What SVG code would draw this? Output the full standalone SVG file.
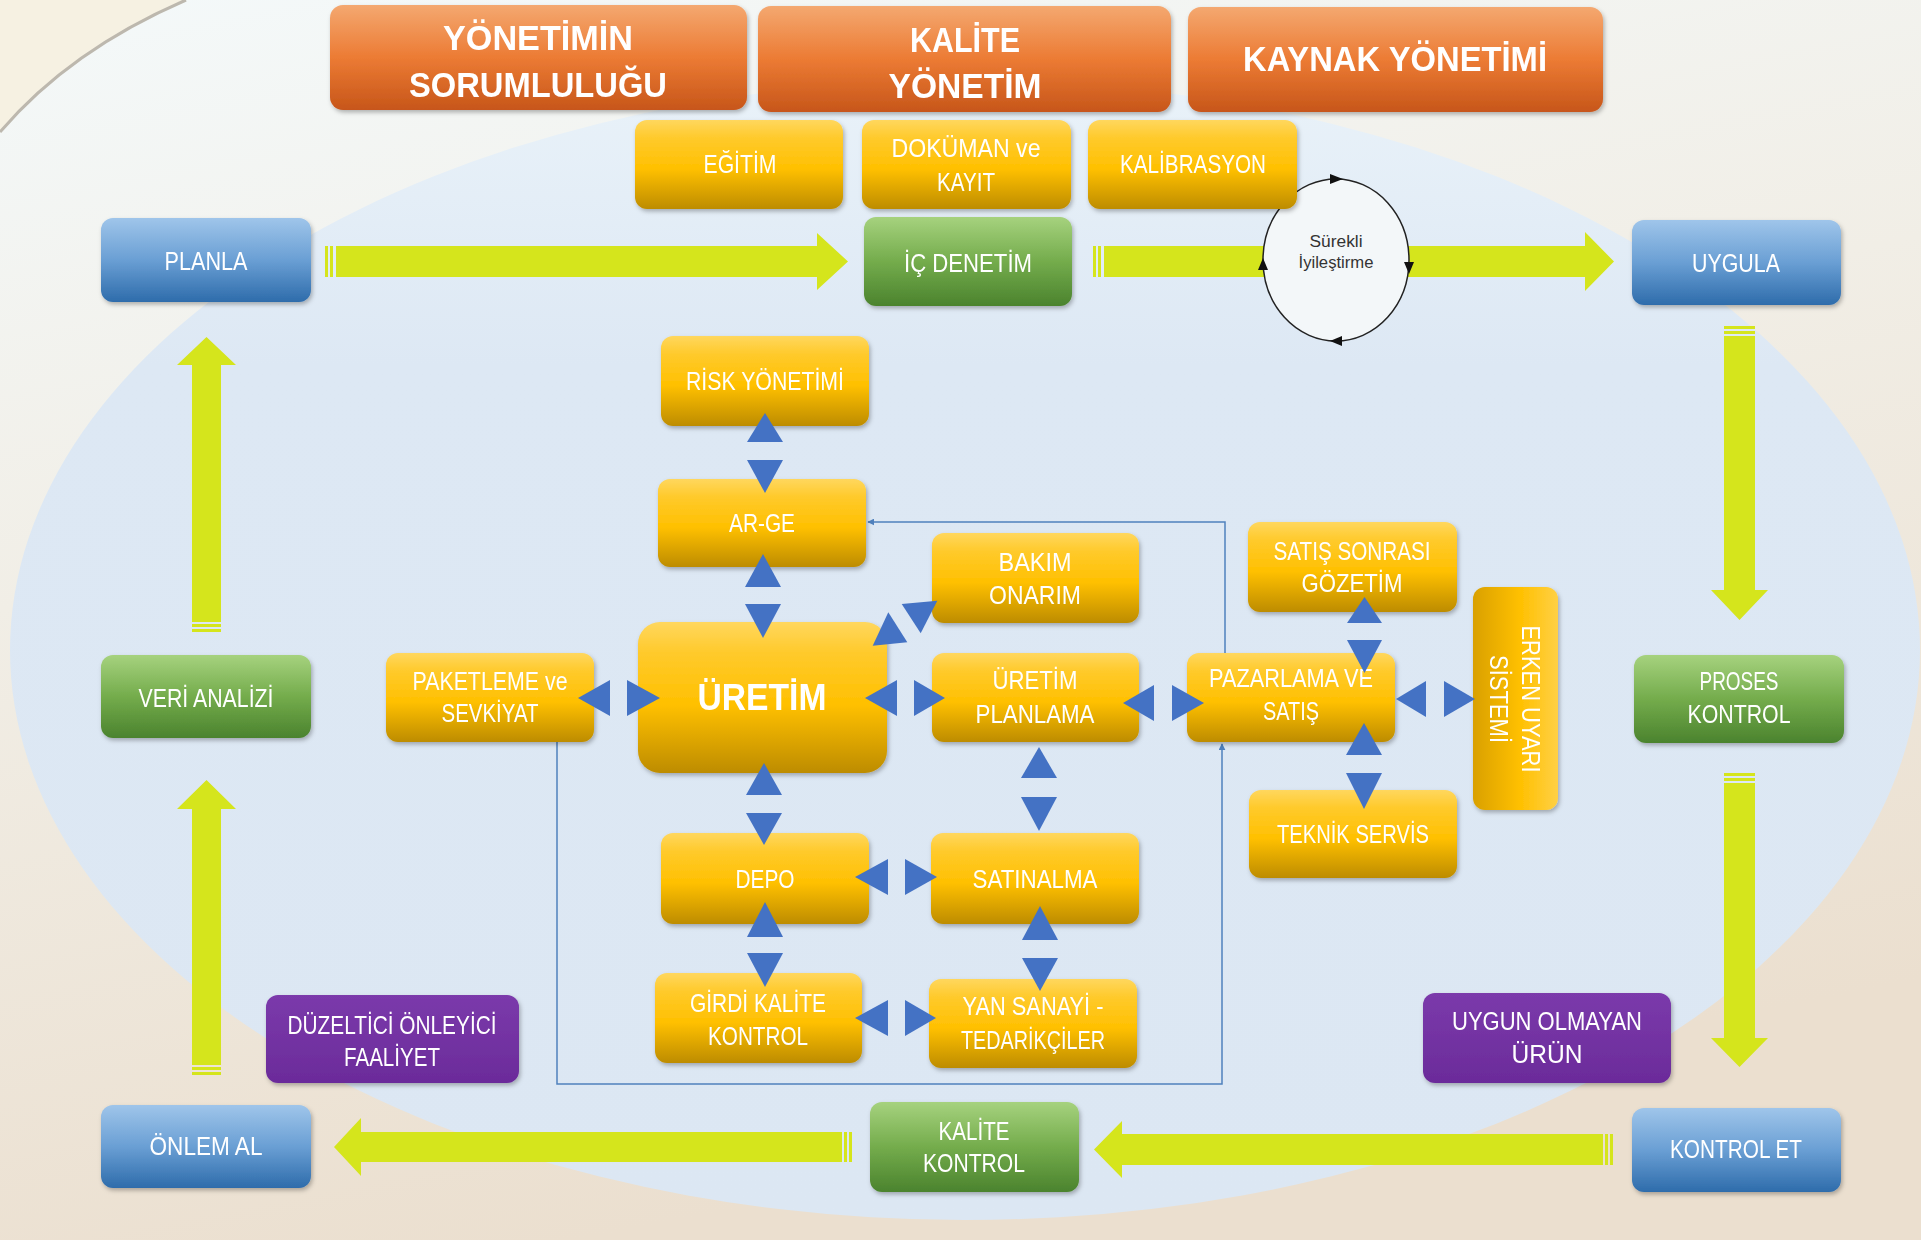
<svg xmlns="http://www.w3.org/2000/svg" width="1921" height="1240" viewBox="0 0 1921 1240">
<defs>
<linearGradient id="bg" x1="0" y1="0" x2="0.3" y2="1">
<stop offset="0" stop-color="#f4f9fa"/><stop offset="0.45" stop-color="#f1eee6"/><stop offset="1" stop-color="#ebdfcf"/>
</linearGradient>
<linearGradient id="ell" x1="0" y1="0" x2="0" y2="1">
<stop offset="0" stop-color="#e9f2f9"/><stop offset="0.25" stop-color="#dde8f4"/><stop offset="1" stop-color="#dce7f3"/>
</linearGradient>
<linearGradient id="gO" x1="0" y1="0" x2="0" y2="1">
<stop offset="0" stop-color="#f4a870"/><stop offset="0.5" stop-color="#ec7b34"/><stop offset="1" stop-color="#c7561a"/>
</linearGradient>
<linearGradient id="gY" x1="0" y1="0" x2="0" y2="1">
<stop offset="0" stop-color="#ffd75e"/><stop offset="0.2" stop-color="#ffca2c"/><stop offset="0.55" stop-color="#ffc000"/><stop offset="1" stop-color="#bd8c00"/>
</linearGradient>
<linearGradient id="gB" x1="0" y1="0" x2="0" y2="1">
<stop offset="0" stop-color="#9fc5ea"/><stop offset="0.5" stop-color="#6a9fd4"/><stop offset="1" stop-color="#2e6cab"/>
</linearGradient>
<linearGradient id="gG" x1="0" y1="0" x2="0" y2="1">
<stop offset="0" stop-color="#a6d27e"/><stop offset="0.5" stop-color="#74ac4c"/><stop offset="1" stop-color="#4b832e"/>
</linearGradient>
<linearGradient id="gP" x1="0" y1="0" x2="0" y2="1">
<stop offset="0" stop-color="#7b3aab"/><stop offset="1" stop-color="#6b2b9a"/>
</linearGradient>
<linearGradient id="gE" x1="0" y1="0" x2="1" y2="0">
<stop offset="0" stop-color="#d9a000"/><stop offset="0.55" stop-color="#ffc000"/><stop offset="1" stop-color="#ffd045"/>
</linearGradient>
<filter id="sh" x="-10%" y="-10%" width="125%" height="130%">
<feDropShadow dx="1.5" dy="2.5" stdDeviation="2" flood-color="#000" flood-opacity="0.28"/>
</filter>
<marker id="mb" viewBox="0 0 10 10" refX="9" refY="5" markerWidth="7" markerHeight="7" orient="auto" markerUnits="userSpaceOnUse">
<path d="M0,0 L10,5 L0,10 z" fill="#4f81bd"/>
</marker>
</defs>
<style>
.t{font-family:"Liberation Sans Narrow","Liberation Sans",Arial,sans-serif;font-size:25px;fill:#ffffff;text-anchor:middle}
.h{font-weight:bold;font-size:35px}
.big{font-weight:bold;font-size:36px}
.c{font-family:"Liberation Sans",Arial,sans-serif;font-size:16px;fill:#333333;text-anchor:middle}
.box{filter:url(#sh)}
.o{fill:url(#gO)}
.y{fill:url(#gY)}
.b{fill:url(#gB)}
.g{fill:url(#gG)}
.p{fill:url(#gP)}
.ga{fill:#d5e51c}
.tri{fill:#4472c4}
.ln{fill:none;stroke:#4f81bd;stroke-width:1.5}
</style>

<!-- background -->
<rect x="0" y="0" width="1921" height="1240" fill="url(#bg)"/>
<path d="M0,0 H186 Q70,50 0,132 Z" fill="#f6f1e2"/>
<path d="M0,132 Q70,50 186,0" fill="none" stroke="#bdb8ae" stroke-width="3"/>
<ellipse cx="965" cy="650" rx="955" ry="570" fill="url(#ell)"/>

<!-- green flow arrows -->
<g id="flow-arrows">
<rect class="ga" x="325" y="246" width="3" height="31"/>
<rect class="ga" x="330" y="246" width="3" height="31"/>
<polygon class="ga" points="336,246 817,246 817,233 848,261.5 817,290 817,277 336,277"/>
<rect class="ga" x="1093" y="246" width="3" height="31"/>
<rect class="ga" x="1098" y="246" width="3" height="31"/>
<polygon class="ga" points="1104,246 1585,246 1585,232 1614,261.5 1585,291 1585,277 1104,277"/>
<rect class="ga" x="1724" y="326" width="31" height="3"/>
<rect class="ga" x="1724" y="331" width="31" height="3"/>
<polygon class="ga" points="1724,336 1755,336 1755,590 1768,590 1739.5,620 1711,590 1724,590"/>
<rect class="ga" x="1724" y="773" width="31" height="3"/>
<rect class="ga" x="1724" y="778" width="31" height="3"/>
<polygon class="ga" points="1724,783 1755,783 1755,1038 1768,1038 1739.5,1067 1711,1038 1724,1038"/>
<rect class="ga" x="1610" y="1134" width="3" height="31"/>
<rect class="ga" x="1605" y="1134" width="3" height="31"/>
<polygon class="ga" points="1603,1134 1122,1134 1122,1121 1094,1149.5 1122,1178 1122,1165 1603,1165"/>
<rect class="ga" x="849" y="1132" width="3" height="30"/>
<rect class="ga" x="844" y="1132" width="3" height="30"/>
<polygon class="ga" points="842,1132 361,1132 361,1118 334,1147 361,1176 361,1162 842,1162"/>
<rect class="ga" x="192" y="1072" width="29" height="3"/>
<rect class="ga" x="192" y="1067" width="29" height="3"/>
<polygon class="ga" points="192,1065 192,809 177,809 206.5,780 236,809 221,809 221,1065"/>
<rect class="ga" x="192" y="629" width="29" height="3"/>
<rect class="ga" x="192" y="624" width="29" height="3"/>
<polygon class="ga" points="192,622 192,365 177,365 206.5,337 236,365 221,365 221,622"/>
</g>

<!-- continuous improvement circle -->
<g id="surekli-iyilestirme">
<ellipse cx="1336" cy="260" rx="73" ry="81" fill="#f3f7f9" stroke="#222222" stroke-width="1.5"/>
<polygon points="1330,174 1343,179 1330,184" fill="#111"/>
<polygon points="1404,262 1414,262 1409,274" fill="#111"/>
<polygon points="1342,336 1330,341 1342,346" fill="#111"/>
<polygon points="1258,270 1268,270 1263,258" fill="#111"/>
<text class="c" x="1336" y="247" textLength="53" lengthAdjust="spacingAndGlyphs">Sürekli</text>
<text class="c" x="1336" y="268" textLength="75" lengthAdjust="spacingAndGlyphs">İyileştirme</text>
</g>

<!-- blue thin connectors -->
<g id="connectors">
<path class="ln" d="M1225,653 V522 H868" marker-end="url(#mb)"/>
<path class="ln" d="M557,742 V1084 H1222 V744" marker-end="url(#mb)"/>
</g>

<!-- header -->
<g id="yonetimin-sorumlulugu" class="box">
<rect class="o" x="330" y="5" width="417" height="105" rx="13"/>
<text class="t h" x="538" y="50" textLength="190" lengthAdjust="spacingAndGlyphs">YÖNETİMİN</text>
<text class="t h" x="538" y="97" textLength="258" lengthAdjust="spacingAndGlyphs">SORUMLULUĞU</text>
</g>
<g id="kalite-yonetim" class="box">
<rect class="o" x="758" y="6" width="413" height="106" rx="13"/>
<text class="t h" x="965" y="52" textLength="110" lengthAdjust="spacingAndGlyphs">KALİTE</text>
<text class="t h" x="965" y="98" textLength="153" lengthAdjust="spacingAndGlyphs">YÖNETİM</text>
</g>
<g id="kaynak-yonetimi" class="box">
<rect class="o" x="1188" y="7" width="415" height="105" rx="13"/>
<text class="t h" x="1395" y="71" textLength="304" lengthAdjust="spacingAndGlyphs">KAYNAK YÖNETİMİ</text>
</g>

<!-- second row -->
<g id="egitim" class="box">
<rect class="y" x="635" y="120" width="208" height="89" rx="12"/>
<text class="t" x="740" y="173" textLength="73" lengthAdjust="spacingAndGlyphs">EĞİTİM</text>
</g>
<g id="dokuman-kayit" class="box">
<rect class="y" x="862" y="120" width="209" height="89" rx="12"/>
<text class="t" x="966" y="157" textLength="149" lengthAdjust="spacingAndGlyphs">DOKÜMAN ve</text>
<text class="t" x="966" y="191" textLength="58" lengthAdjust="spacingAndGlyphs">KAYIT</text>
</g>
<g id="kalibrasyon" class="box">
<rect class="y" x="1088" y="120" width="209" height="89" rx="12"/>
<text class="t" x="1193" y="173" textLength="146" lengthAdjust="spacingAndGlyphs">KALİBRASYON</text>
</g>
<g id="ic-denetim" class="box">
<rect class="g" x="864" y="217" width="208" height="89" rx="12"/>
<text class="t" x="968" y="272" textLength="128" lengthAdjust="spacingAndGlyphs">İÇ DENETİM</text>
</g>

<!-- PDCA corners -->
<g id="planla" class="box">
<rect class="b" x="101" y="218" width="210" height="84" rx="12"/>
<text class="t" x="206" y="270" textLength="83" lengthAdjust="spacingAndGlyphs">PLANLA</text>
</g>
<g id="uygula" class="box">
<rect class="b" x="1632" y="220" width="209" height="85" rx="12"/>
<text class="t" x="1736" y="272" textLength="88" lengthAdjust="spacingAndGlyphs">UYGULA</text>
</g>
<g id="veri-analizi" class="box">
<rect class="g" x="101" y="655" width="210" height="83" rx="12"/>
<text class="t" x="206" y="707" textLength="135" lengthAdjust="spacingAndGlyphs">VERİ ANALİZİ</text>
</g>
<g id="proses-kontrol" class="box">
<rect class="g" x="1634" y="655" width="210" height="88" rx="12"/>
<text class="t" x="1739" y="690" textLength="79" lengthAdjust="spacingAndGlyphs">PROSES</text>
<text class="t" x="1739" y="723" textLength="103" lengthAdjust="spacingAndGlyphs">KONTROL</text>
</g>
<g id="onlem-al" class="box">
<rect class="b" x="101" y="1105" width="210" height="83" rx="12"/>
<text class="t" x="206" y="1155" textLength="113" lengthAdjust="spacingAndGlyphs">ÖNLEM AL</text>
</g>
<g id="kontrol-et" class="box">
<rect class="b" x="1632" y="1108" width="209" height="84" rx="12"/>
<text class="t" x="1736" y="1158" textLength="132" lengthAdjust="spacingAndGlyphs">KONTROL ET</text>
</g>
<g id="kalite-kontrol" class="box">
<rect class="g" x="870" y="1102" width="209" height="90" rx="12"/>
<text class="t" x="974" y="1140" textLength="71" lengthAdjust="spacingAndGlyphs">KALİTE</text>
<text class="t" x="974" y="1172" textLength="102" lengthAdjust="spacingAndGlyphs">KONTROL</text>
</g>
<g id="duzeltici-onleyici" class="box">
<rect class="p" x="266" y="995" width="253" height="88" rx="12"/>
<text class="t" x="392" y="1034" textLength="209" lengthAdjust="spacingAndGlyphs">DÜZELTİCİ ÖNLEYİCİ</text>
<text class="t" x="392" y="1066" textLength="96" lengthAdjust="spacingAndGlyphs">FAALİYET</text>
</g>
<g id="uygun-olmayan-urun" class="box">
<rect class="p" x="1423" y="993" width="248" height="90" rx="12"/>
<text class="t" x="1547" y="1030" textLength="190" lengthAdjust="spacingAndGlyphs">UYGUN OLMAYAN</text>
<text class="t" x="1547" y="1063" textLength="71" lengthAdjust="spacingAndGlyphs">ÜRÜN</text>
</g>

<!-- central process -->
<g id="risk-yonetimi" class="box">
<rect class="y" x="661" y="336" width="208" height="90" rx="12"/>
<text class="t" x="765" y="390" textLength="158" lengthAdjust="spacingAndGlyphs">RİSK YÖNETİMİ</text>
</g>
<g id="ar-ge" class="box">
<rect class="y" x="658" y="479" width="208" height="88" rx="12"/>
<text class="t" x="762" y="532" textLength="66" lengthAdjust="spacingAndGlyphs">AR-GE</text>
</g>
<g id="uretim" class="box">
<rect class="y" x="638" y="622" width="249" height="151" rx="22"/>
<text class="t big" x="762" y="710" textLength="129" lengthAdjust="spacingAndGlyphs">ÜRETİM</text>
</g>
<g id="paketleme-sevkiyat" class="box">
<rect class="y" x="386" y="653" width="208" height="89" rx="12"/>
<text class="t" x="490" y="690" textLength="155" lengthAdjust="spacingAndGlyphs">PAKETLEME ve</text>
<text class="t" x="490" y="722" textLength="97" lengthAdjust="spacingAndGlyphs">SEVKİYAT</text>
</g>
<g id="bakim-onarim" class="box">
<rect class="y" x="932" y="533" width="207" height="90" rx="12"/>
<text class="t" x="1035" y="571" textLength="73" lengthAdjust="spacingAndGlyphs">BAKIM</text>
<text class="t" x="1035" y="604" textLength="92" lengthAdjust="spacingAndGlyphs">ONARIM</text>
</g>
<g id="uretim-planlama" class="box">
<rect class="y" x="932" y="653" width="207" height="89" rx="12"/>
<text class="t" x="1035" y="689" textLength="85" lengthAdjust="spacingAndGlyphs">ÜRETİM</text>
<text class="t" x="1035" y="723" textLength="119" lengthAdjust="spacingAndGlyphs">PLANLAMA</text>
</g>
<g id="pazarlama-satis" class="box">
<rect class="y" x="1187" y="653" width="208" height="89" rx="12"/>
<text class="t" x="1291" y="687" textLength="164" lengthAdjust="spacingAndGlyphs">PAZARLAMA VE</text>
<text class="t" x="1291" y="720" textLength="56" lengthAdjust="spacingAndGlyphs">SATIŞ</text>
</g>
<g id="satis-sonrasi-gozetim" class="box">
<rect class="y" x="1248" y="522" width="209" height="90" rx="12"/>
<text class="t" x="1352" y="560" textLength="157" lengthAdjust="spacingAndGlyphs">SATIŞ SONRASI</text>
<text class="t" x="1352" y="592" textLength="101" lengthAdjust="spacingAndGlyphs">GÖZETİM</text>
</g>
<g id="teknik-servis" class="box">
<rect class="y" x="1249" y="790" width="208" height="88" rx="12"/>
<text class="t" x="1353" y="843" textLength="152" lengthAdjust="spacingAndGlyphs">TEKNİK SERVİS</text>
</g>
<g id="erken-uyari-sistemi" class="box">
<rect x="1473" y="587" width="85" height="223" rx="12" fill="url(#gE)"/>
<text class="t" transform="translate(1522,699) rotate(90)" x="0" y="0" textLength="147" lengthAdjust="spacingAndGlyphs">ERKEN UYARI</text>
<text class="t" transform="translate(1490,699) rotate(90)" x="0" y="0" textLength="88" lengthAdjust="spacingAndGlyphs">SİSTEMİ</text>
</g>
<g id="depo" class="box">
<rect class="y" x="661" y="833" width="208" height="91" rx="12"/>
<text class="t" x="765" y="888" textLength="59" lengthAdjust="spacingAndGlyphs">DEPO</text>
</g>
<g id="satinalma" class="box">
<rect class="y" x="931" y="833" width="208" height="91" rx="12"/>
<text class="t" x="1035" y="888" textLength="125" lengthAdjust="spacingAndGlyphs">SATINALMA</text>
</g>
<g id="girdi-kalite-kontrol" class="box">
<rect class="y" x="655" y="973" width="207" height="90" rx="12"/>
<text class="t" x="758" y="1012" textLength="136" lengthAdjust="spacingAndGlyphs">GİRDİ KALİTE</text>
<text class="t" x="758" y="1045" textLength="100" lengthAdjust="spacingAndGlyphs">KONTROL</text>
</g>
<g id="yan-sanayi-tedarikciler" class="box">
<rect class="y" x="929" y="979" width="208" height="89" rx="12"/>
<text class="t" x="1033" y="1015" textLength="141" lengthAdjust="spacingAndGlyphs">YAN SANAYİ -</text>
<text class="t" x="1033" y="1049" textLength="144" lengthAdjust="spacingAndGlyphs">TEDARİKÇİLER</text>
</g>

<!-- blue double-triangle links -->
<g id="links">
<polygon class="tri" points="747,442 783,442 765,413"/>
<polygon class="tri" points="747,460 783,460 765,493"/>
<polygon class="tri" points="745,587 781,587 763,554"/>
<polygon class="tri" points="745,604 781,604 763,638"/>
<polygon class="tri" points="746,795 782,795 764,763"/>
<polygon class="tri" points="746,813 782,813 764,845"/>
<polygon class="tri" points="747,937 783,937 765,902"/>
<polygon class="tri" points="747,953 783,953 765,987"/>
<polygon class="tri" points="1021,778 1057,778 1039,747"/>
<polygon class="tri" points="1021,797 1057,797 1039,831"/>
<polygon class="tri" points="1022,940 1058,940 1040,906"/>
<polygon class="tri" points="1022,958 1058,958 1040,991"/>
<polygon class="tri" points="1347,623 1382,623 1364.5,597"/>
<polygon class="tri" points="1347,640 1382,640 1364.5,673"/>
<polygon class="tri" points="1346,755 1382,755 1364,723"/>
<polygon class="tri" points="1346,773 1382,773 1364,809"/>
<polygon class="tri" points="578,698 610,680 610,716"/>
<polygon class="tri" points="660,698 627,680 627,716"/>
<polygon class="tri" points="865,698 897,680 897,716"/>
<polygon class="tri" points="945,698 914,680 914,716"/>
<polygon class="tri" points="1123,703 1154,685 1154,721"/>
<polygon class="tri" points="1204,703 1172,685 1172,721"/>
<polygon class="tri" points="1396,699 1426,681 1426,717"/>
<polygon class="tri" points="1475,699 1444,681 1444,717"/>
<polygon class="tri" points="855,877 888,859 888,895"/>
<polygon class="tri" points="937,877 905,859 905,895"/>
<polygon class="tri" points="855,1018 888,1000 888,1036"/>
<polygon class="tri" points="936,1018 905,1000 905,1036"/>
<polygon class="tri" points="872.7,645.7 907.3,642.3 888.3,612.3"/>
<polygon class="tri" points="901.7,604 937.3,600.7 920.7,633.3"/>
</g>
</svg>
